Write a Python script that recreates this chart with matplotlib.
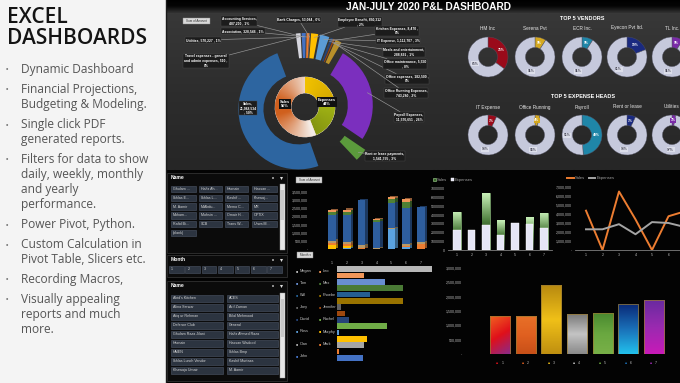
import textwrap
import numpy as np
import matplotlib
matplotlib.use("Agg")
import matplotlib.pyplot as plt
from matplotlib.colors import LinearSegmentedColormap, to_rgb
from matplotlib.patches import Rectangle

plt.rcParams["font.family"] = ["Liberation Sans", "DejaVu Sans"]

# ----------------------------------------------------------------------
#  DATA
# ----------------------------------------------------------------------
panel_title = ["EXCEL", "DASHBOARDS"]
bullets = [
    ["Dynamic Dashboard"],
    ["Financial Projections,", "Budgeting & Modeling."],
    ["Single click PDF", "generated reports."],
    ["Filters for data to show", "daily, weekly, monthly", "and yearly", "performance."],
    ["Power Pivot, Python."],
    ["Custom Calculation in", "Pivot Table, Slicers etc."],
    ["Recording Macros,"],
    ["Visually appealing", "reports and much", "more."],
]
dash_title = "JAN-JULY 2020 P&L DASHBOARD"

# P&L doughnut, clockwise from the top (None = slice without label / fill)
pl_names = ["Accounting Services", "Association", "Bank Charges", "Employee Benefit",
            "IT Expense", "Kitchen Expenses", "Meals and entertainment",
            "Office expenses", "Office maintenance", "Office Running Expenses",
            "Payroll Expenses", "Rent or lease payments", None, "Sales", None,
            "Travel expenses - general and admin expenses", "Utilities"]
pl_values = [487200, 328546, 53084, 850312, 1112707, 8470, 288891, 182500, 5550,
             743280, 11576651, 1541755, 2930000, 21988534, 1590000, 510, 570227]
inner_names = ["Expenses", "Sales"]
inner_pct = [44, 56]

vendors = ["HM Inc", "Serena Pvt", "ECR Inc.", "Eyecon Pvt ltd.", "TL Inc."]
vendor_pct = [35, 9, 9, 19, 9]
heads = ["IT Expense", "Office Running", "Payroll", "Rent or lease", "Utilities"]
head_pct = [7, 4, 49, 7, 3]

months = [1, 2, 3, 4, 5, 6, 7]
# stacked "Sum of Amount" columns, bottom -> top
amt_sky = [0, 50000, 0, 0, 1250000, 150000, 0]
amt_gold = [250000, 120000, 0, 0, 0, 0, 0]
amt_orange = [120000, 150000, 80000, 0, 0, 50000, 300000]
amt_tan = [150000, 100000, 150000, 50000, 50000, 100000, 100000]
amt_blue = [1550000, 1680000, 2770000, 1600000, 1500000, 2200000, 2150000]
amt_green = [200000, 200000, 0, 150000, 250000, 400000, 0]
amt_salmon = [100000, 120000, 0, 50000, 150000, 150000, 0]

sales = [4370000, 0, 6500000, 3400000, 0, 3750000, 4300000]
expenses = [2300000, 2300000, 2870000, 1750000, 3100000, 3000000, 2550000]

people = ["Megan", "Leo", "Tom", "Max", "Will", "Phoebe", "Joey", "Jennifer",
          "David", "Rachel", "Ross", "Murphy", "Olan", "Mark", "John"]
people_amount = [950000, 270000, 480000, 660000, 330000, 660000, 40000, 80000,
                 120000, 500000, 20000, 300000, 270000, 20000, 260000]

month_total = [1320000, 1320000, 2400000, 1390000, 1430000, 1740000, 1880000]

slicer_names_a = ["Ghulam ...", "Hafiz Ah...", "Hasnain", "Hassan ...",
                  "Ikhlas E...", "Ikhlas L...", "Kashif ...", "Khawaj...",
                  "M. Aamir", "M.Abdu...", "Memo C...", "MR",
                  "Moham...", "Mohsin ...", "Omair H...", "OPTIX",
                  "Rafid Bi...", "SCB", "Trans W...", "Urwa M...", "(blank)"]
slicer_names_b = ["Abid's Kitchen", "ACES", "Alina Sarwar", "Arif Zaman",
                  "Atiq ur Rehman", "Bilal Mehmood", "Defence Club", "General",
                  "Ghulam Raza Jilani", "Hafiz Ahmed Raza", "Hasnain", "Hassan Wadood",
                  "HAIEN", "Ikhlas Bmp", "Ikhlas Lunch Vendor", "Kashif Murtaza",
                  "Khawaja Umair", "M. Aamir"]

# ----------------------------------------------------------------------
#  STYLE
# ----------------------------------------------------------------------
W, H = 680, 383
pl_colors = ["#4472c4", "#ed7d31", "#a5a5a5", "#ffc000", "#5b9bd5", "#70ad47",
             "#264478", "#9e480e", "#636363", "#b8902a", "#7b2fbe", "#5b9a3c",
             "none", "#2d65a0", "none", "#d0d0d0", "#d6d6de"]
pl_explode = [14, 14, 14, 14, 14, 14, 14, 14, 14, 14, 8, 14, 0, 7, 0, 14, 14]
pl_label_xy = [(239, 21), (243, 31), (299, 20), (360, 22), (398, 41), (397, 31),
               (404, 52), (407, 79), (405, 64), (406, 93), (409, 117), (385, 156),
               None, (248, 108), None, (206, 61), (203, 40)]
accent = ["#9a0a1a", "#d4a820", "#1f86a8", "#1a2a80", "#7a2aa8"]
ring_gray = "#c6c9dc"
stack_colors = ["#5ba3e0", "#ffc000", "#ed7d31", "#b89a68", "#2e5e9e", "#4f8035", "#f1975a"]
people_colors = ["#b7b7b7", "#f1975a", "#698ed0", "#4a7a35", "#255e91", "#997300",
                 "#636363", "#9e480e", "#264478", "#70ad47", "#5b9bd5", "#ffc000",
                 "#a5a5a5", "#ed7d31", "#4472c4"]
total_grads = [["#f06020", "#e0101a", "#8a2a8a"], ["#e87028", "#e06020", "#c85018"],
               ["#b88a10", "#f0c018", "#c09010"], ["#7a7a7a", "#c4c4c4", "#8a8a8a"],
               ["#4a8a30", "#6aa840", "#78b048"], ["#0a2a78", "#1a70b8", "#22c0ec"],
               ["#6a2aa0", "#9a2ab0", "#c81ab8"]]
tick_col = "#bfbfbf"

fig = plt.figure(figsize=(W / 100, H / 100), dpi=100)
fig.patch.set_facecolor("#f4f4f4")


def px_axes(x, y, w, h, zorder=1):
    ax = fig.add_axes([x / W, 1 - (y + h) / H, w / W, h / H], zorder=zorder)
    ax.patch.set_alpha(0)
    return ax


def gradient_in(ax, patch, colors, extent, diag=False, z=None):
    cmap = LinearSegmentedColormap.from_list("g", colors)
    arr = np.linspace(0, 1, 64)[:, None]
    if diag:
        arr = 0.75 * arr + 0.25 * np.linspace(0, 1, 16)[None, :]
    im = ax.imshow(arr, extent=extent, cmap=cmap, aspect="auto",
                   interpolation="bilinear", vmin=0, vmax=1,
                   zorder=patch.get_zorder() + 0.01 if z is None else z)
    im.set_clip_path(patch)
    return im


def style_ticks(ax, pad):
    ax.tick_params(length=0, labelsize=2.6, colors=tick_col, pad=pad)
    for s in ax.spines.values():
        s.set_visible(False)


# ----------------------------------------------------------------------
#  BACKGROUND, LEFT PANEL, SLICERS
# ----------------------------------------------------------------------
bg = px_axes(0, 0, W, H, zorder=0)
bg.imshow(np.linspace(0, 1, 64)[:, None], extent=(166, W, 170, 13), aspect="auto",
          cmap=LinearSegmentedColormap.from_list("t", ["#383838", "#2d2d2d", "#262626"]))
bg.add_patch(Rectangle((166, 170), W - 166, H - 170, fc="#030303", ec="none"))
bg.imshow(np.linspace(0, 1, 16)[:, None], extent=(166, W, 13.5, 0), aspect="auto",
          cmap=LinearSegmentedColormap.from_list("b", ["#000000", "#050505", "#303030"]))
bg.plot([165.6, 165.6], [0, H], color="#1a1a1a", lw=1)
bg.text(429, 7, dash_title, color="white", fontsize=7.3, fontweight="bold",
        ha="center", va="center")

for i, t in enumerate(panel_title):
    bg.text(7, 23.3 + 20.3 * i, t, fontsize=15, color="#141414", va="baseline",
            family="Open Sans", fontweight="semibold")
n_lines = 0
for g, group in enumerate(bullets):
    for k, line in enumerate(group):
        yb = 73 + 15 * n_lines + 5 * g
        if k == 0:
            bg.text(6, yb - 3, "\u2022", fontsize=5, color="#777777", va="center")
        bg.text(21, yb, line, fontsize=8.6, color="#555555", va="baseline",
                family="Open Sans")
        n_lines += 1

hdr_cmap = LinearSegmentedColormap.from_list("h", ["#a8a8a8", "#6a6a6a", "#3c3c3c"])


def slicer(x, y, w, h, title):
    bg.add_patch(Rectangle((x, y), w, h, fc="#0b0b0b", ec="#3a3a3a", lw=0.5))
    bg.imshow(np.linspace(0, 1, 16)[:, None], extent=(x, x + w, y + 9, y),
              cmap=hdr_cmap, aspect="auto")
    bg.text(x + 4, y + 4.6, title, color="white", fontsize=3.6, fontweight="bold",
            va="center")
    bg.plot([x + w - 6], [y + 4.5], marker="v", ms=2.2, color="#dddddd", mew=0)
    bg.plot([x + w - 14], [y + 4.5], marker="s", ms=1.6, color="#8a8a8a", mew=0)


def button(x, y, w, h, text, fs=2.6):
    bg.add_patch(Rectangle((x, y), w, h, fc="#2c3440", ec="#4c5666", lw=0.4))
    bg.text(x + 2, y + h / 2, text, color="#d6d6d6", fontsize=fs, va="center")


def scrollbar(x, y, h):
    bg.add_patch(Rectangle((x, y), 5, h, fc="#e6e6e6", ec="#9a9a9a", lw=0.3))
    bg.add_patch(Rectangle((x + 0.8, y + 6), 3.4, h * 0.45, fc="#c8c8c8", ec="none"))


slicer(167, 173, 120, 80, "Name")
col_x = [171, 199, 225, 252]
col_w = [25, 23, 23, 25]
for i, name in enumerate(slicer_names_a):
    r, c = divmod(i, 4)
    button(col_x[c], 185.7 + 8.8 * r, col_w[c], 6.5, name)
scrollbar(279.5, 184, 66)

slicer(167, 255, 120, 22, "Month")
for i, m in enumerate(months):
    button(169 + 16.4 * i, 266, 14.5, 7, str(m))

slicer(167, 281, 120, 100, "Name")
for i, name in enumerate(slicer_names_b):
    r, c = divmod(i, 2)
    button([171, 227][c], 295 + 9 * r, [52, 51][c], 6.8, name)
scrollbar(280, 293, 85)


def field_button(x, y, w, text):
    bg.add_patch(Rectangle((x, y), w, 6, fc="#d9d9d9", ec="#8a8a8a", lw=0.3))
    bg.text(x + w / 2, y + 3, text, color="#333333", fontsize=2.2, ha="center",
            va="center")


field_button(183, 18, 27, "Sum of Amount")
field_button(296, 177, 26, "Sum of Amount")
field_button(297, 252, 16, "Month \u25be")

# ----------------------------------------------------------------------
#  P&L DOUGHNUT
# ----------------------------------------------------------------------
cx, cy = 305, 107
pax = px_axes(165, 13, 280, 157, zorder=2)
wedges, _ = pax.pie(pl_values, colors=pl_colors, explode=pl_explode, startangle=93,
                    counterclock=False, radius=60,
                    wedgeprops=dict(width=25, edgecolor="none"))
total = sum(pl_values)
for w_, name, val, xy in zip(wedges, pl_names, pl_values, pl_label_xy):
    if name is None:
        continue
    label = f"{name}, {val:,.0f} , {round(100 * val / total):.0f}%"
    label = textwrap.fill(label, 11 if name == "Sales" else 26)
    tx, ty = xy[0] - cx, cy - xy[1]
    bbox = dict(boxstyle="square,pad=0.25", fc="#1c1c1c", ec="#4a4a4a", lw=0.3)
    if name == "Sales":
        pax.text(tx, ty, label, fontsize=2.4, color="white", fontweight="bold",
                 ha="center", va="center", zorder=6, bbox=bbox)
        continue
    th = np.deg2rad((w_.theta1 + w_.theta2) / 2)
    ax0 = w_.center[0] + 56 * np.cos(th)
    ay0 = w_.center[1] + 56 * np.sin(th)
    pax.annotate(label, xy=(ax0, ay0), xytext=(tx, ty), fontsize=2.4, color="white",
                 fontweight="bold", ha="center", va="center", zorder=6, bbox=bbox,
                 annotation_clip=False,
                 arrowprops=dict(arrowstyle="-", color="#9a9a9a", lw=0.45,
                                 shrinkA=0, shrinkB=0))

in_w, _ = pax.pie(inner_pct, colors=["#f0c000", "#e07030"], startangle=90,
                  counterclock=False, radius=30,
                  wedgeprops=dict(width=16, edgecolor="white", linewidth=0.4))
gx, gy = np.meshgrid(np.linspace(-30, 30, 120), np.linspace(-30, 30, 120))
ang = np.degrees(np.arctan2(gy, gx))
yel = np.array(to_rgb("#f2c200"))
oli = np.array(to_rgb("#8a9a12"))
t_e = np.clip(ang / 90, -1, 1)[..., None]
img_e = np.where(t_e > 0, yel * (0.85 + 0.15 * t_e), oli * (1.15 + 0.25 * t_e))
img_e = np.clip(img_e, 0, 1)
ang2 = np.mod(ang, 360)
t_s = np.clip((np.abs(ang2 - 180) - 15) / 90, 0, 1)[..., None]
org = np.array(to_rgb("#d0601e"))
wht = np.array(to_rgb("#f4ece6"))
img_s = org * (1 - t_s) + wht * t_s
for wdg, img in zip(in_w, [img_e, img_s]):
    im = pax.imshow(img, extent=(-30, 30, -30, 30), origin="lower", aspect="auto",
                    interpolation="bilinear", zorder=3)
    im.set_clip_path(wdg)
for name, pct, (tx, ty) in zip(inner_names, inner_pct, [(22, 5), (-20, 3)]):
    pax.text(tx, ty, f"{name}\n{pct}%", fontsize=2.8, color="white",
             fontweight="bold", ha="center", va="center", zorder=7,
             bbox=dict(boxstyle="square,pad=0.3", fc="#101010", ec="none"))
pax.set_xlim(-140, 140)
pax.set_ylim(cy - 170, cy - 13)

# ----------------------------------------------------------------------
#  TOP 5 DONUTS
# ----------------------------------------------------------------------
donut_x = [488, 535, 582, 627, 672]
bg.text(582, 19, "TOP 5 VENDORS", color="white", fontsize=4, fontweight="bold",
        ha="center", va="center")
bg.text(583, 96, "TOP 5 EXPENSE HEADS", color="white", fontsize=4,
        fontweight="bold", ha="center", va="center")
for row_y, name_y, names, pcts in [(57, 28, vendors, vendor_pct),
                                   (135, 107, heads, head_pct)]:
    for dx, name, pct, col in zip(donut_x, names, pcts, accent):
        bg.text(dx, name_y, name, color="#e6e6e6", fontsize=3.4, ha="center",
                va="center")
        dax = px_axes(dx - 22, row_y - 22, 44, 44, zorder=2)
        _, txts, pts = dax.pie([pct, 100 - pct], colors=[col, ring_gray],
                               startangle=90, counterclock=False, radius=20,
                               autopct="%d%%", pctdistance=0.74,
                               wedgeprops=dict(width=10.5, edgecolor="#505060",
                                               linewidth=0.3),
                               textprops=dict(fontsize=2.4, fontweight="bold"))
        pts[0].set_color("white")
        pts[0].set_bbox(dict(boxstyle="square,pad=0.2", fc=col, ec="none"))
        pts[1].set_color("#4a4a5a")
        pts[1].set_bbox(dict(boxstyle="square,pad=0.2", fc="#dcdeea", ec="none"))
        dax.set_xlim(-22, 22)
        dax.set_ylim(-22, 22)

# ----------------------------------------------------------------------
#  SUM OF AMOUNT (stacked 3D-look columns)
# ----------------------------------------------------------------------
sax = px_axes(320, 189, 110, 60)
stack = [amt_sky, amt_gold, amt_orange, amt_tan, amt_blue, amt_green, amt_salmon]
bottom = np.zeros(len(months))
for series, col in zip(stack, stack_colors):
    dark = np.array(to_rgb(col)) * 0.6
    sax.bar(np.array(months) + 0.17, series, bottom=bottom + 70000, width=0.5,
            color=dark, zorder=1)
    sax.bar(months, series, bottom=bottom, width=0.5, color=col, zorder=2)
    bottom += np.array(series)
sax.set_xlim(1 - 12 / 14.83, 7 + 9 / 14.83)
sax.set_ylim(0, 3.5e6 * 60 / 57)
sax.set_yticks(np.arange(0, 3.5e6 + 1, 5e5))
sax.set_yticklabels(["-"] + [f"{v:,.0f}" for v in np.arange(5e5, 3.5e6 + 1, 5e5)])
sax.set_xticks(months)
style_ticks(sax, pad=8.5)

# ----------------------------------------------------------------------
#  SALES vs EXPENSES (overlapped columns)
# ----------------------------------------------------------------------
oax = px_axes(448, 186, 104, 64)
sb = oax.bar(months, sales, width=0.5, color="#3a6a2a", edgecolor="#a8d898",
             lw=0.4, label="Sales", zorder=1)
for r in sb:
    if r.get_height() > 0:
        gradient_in(oax, r, ["#c8f0b8", "#4a7a3a", "#0a120a"],
                    (r.get_x(), r.get_x() + r.get_width(), 0, r.get_height()))
oax.bar(months, expenses, width=0.5, color="#e6e6f6", edgecolor="white", lw=0.3,
        label="Expenses", zorder=3)
oax.set_xlim(1 - 9 / 14.5, 7 + 8 / 14.5)
oax.set_ylim(0, 7e6 * 64 / 61)
oax.set_yticks(np.arange(0, 7e6 + 1, 1e6))
oax.set_yticklabels([f"{v:.0f}" for v in np.arange(0, 7e6 + 1, 1e6)])
oax.set_xticks(months)
style_ticks(oax, pad=2)
oax.spines["bottom"].set_visible(True)
oax.spines["bottom"].set_color("#7f7f7f")
oax.spines["bottom"].set_linewidth(0.6)
oax.legend(ncol=2, loc="center left", bbox_to_anchor=(431 / W, 1 - 180 / H),
           bbox_transform=fig.transFigure, frameon=False, fontsize=3,
           labelcolor="#a0a0a0", handlelength=0.7, handleheight=0.7,
           columnspacing=0.8, handletextpad=0.3, borderpad=0)

# ----------------------------------------------------------------------
#  SALES vs EXPENSES (lines)
# ----------------------------------------------------------------------
lax = px_axes(575, 186, 125, 64)
lax.plot(months, sales, color="#ed7d31", lw=1.4, label="Sales")
lax.plot(months, expenses, color="#a5a5a5", lw=1.4, label="Expenses")
lax.set_xlim(1 - 11 / 16.5, 7 + 15 / 16.5)
lax.set_ylim(0, 64 / 9 * 1e6)
lax.set_yticks(np.arange(0, 7e6 + 1, 1e6))
lax.set_yticklabels(["-"] + [f"{v:,.0f}" for v in np.arange(1e6, 7e6 + 1, 1e6)])
lax.set_xticks(months[:-1])   # month 7 falls past the right edge of the picture
style_ticks(lax, pad=2)
lax.spines["bottom"].set_visible(True)
lax.spines["bottom"].set_color("#7f7f7f")
lax.spines["bottom"].set_linewidth(0.6)
lax.legend(ncol=2, loc="center left", bbox_to_anchor=(565 / W, 1 - 178 / H),
           bbox_transform=fig.transFigure, frameon=False, fontsize=3,
           labelcolor="#a0a0a0", handlelength=1.6, columnspacing=0.8,
           handletextpad=0.3, borderpad=0)

# ----------------------------------------------------------------------
#  PEOPLE (horizontal bars) + legend
# ----------------------------------------------------------------------
hax = px_axes(337, 266, 100, 95)
hax.barh(range(len(people)), people_amount, height=0.92, color=people_colors)
hax.set_xlim(0, 1e6)
hax.set_ylim(len(people) - 0.5, -0.5)
hax.axis("off")
for i, (name, col) in enumerate(zip(people, people_colors)):
    r, c = divmod(i, 2)
    bg.text(297 + 23 * c, 271 + 12.1 * r, "\u25a0", color=col, fontsize=2.6,
            ha="center", va="center")
    bg.text(300 + 23 * c, 271 + 12.1 * r, name, color="#c8c8c8", fontsize=2.8,
            va="center")

# ----------------------------------------------------------------------
#  MONTH TOTALS (gradient columns)
# ----------------------------------------------------------------------
gax = px_axes(466, 266, 214, 88)
gb = gax.bar(months, month_total, width=0.78, color="none", edgecolor="#9a7a30",
             lw=0.5, zorder=2)
for k, (r, cols) in enumerate(zip(gb, total_grads)):
    gradient_in(gax, r, cols, (r.get_x(), r.get_x() + r.get_width(), 0, r.get_height()),
                diag=(k == 0), z=1.5)
    gax.text(r.get_x() + r.get_width() / 2 - 0.12, -0.1, "\u25a0", color=cols[1],
             fontsize=2.4, ha="center", va="center", transform=gax.get_xaxis_transform())
    gax.text(r.get_x() + r.get_width() / 2 + 0.05, -0.1, str(months[k]), color=tick_col,
             fontsize=2.6, ha="left", va="center", transform=gax.get_xaxis_transform())
gax.set_xlim(1 - 34 / 25.67, 7 + 26 / 25.67)
gax.set_ylim(0, 3e6 + 2 / 28.67 * 1e6)
gax.set_yticks(np.arange(0, 3e6 + 1, 5e5))
gax.set_yticklabels(["-"] + [f"{v:,.0f}" for v in np.arange(5e5, 3e6 + 1, 5e5)])
gax.set_xticks([])
style_ticks(gax, pad=3)

bg.set_xlim(0, W)
bg.set_ylim(H, 0)
bg.axis("off")

fig.savefig("out.png", dpi=100, facecolor=fig.get_facecolor())
